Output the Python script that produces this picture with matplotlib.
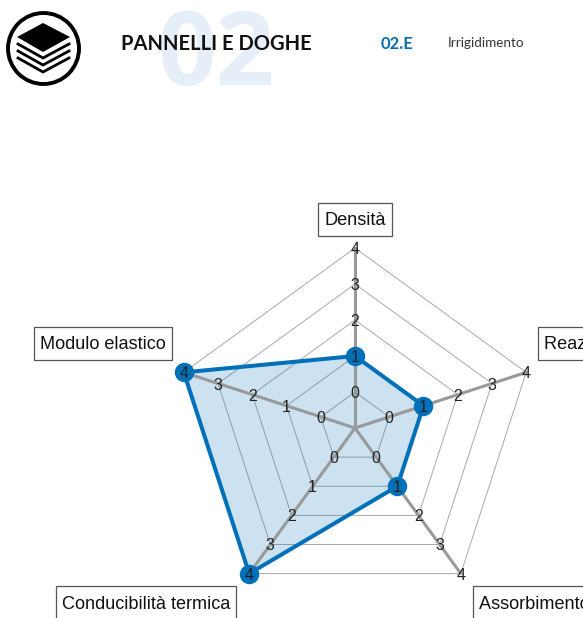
import numpy as np
import matplotlib
matplotlib.use('Agg')
import matplotlib.pyplot as plt
from matplotlib.patches import Circle, Polygon, Rectangle
from matplotlib.transforms import IdentityTransform

categories = ['Densità', 'Reazione al fuoco', 'Assorbimento acustico',
              'Conducibilità termica', 'Modulo elastico']
values = [1, 1, 1, 4, 4]
levels = [0, 1, 2, 3, 4]
r_min = -1

BLUE = '#0070b8'
W, H = 583, 618
fig = plt.figure(figsize=(W / 100, H / 100), dpi=100)

# one value unit = 36 px, centre of the radar at (355, 428)
ax = fig.add_axes([0, 0, 1, 1])
ax.set_xlim(-355 / 36, (W - 355) / 36)
ax.set_ylim((428 - H) / 36, 428 / 36)
ax.axis('off')

angles = np.deg2rad(90 - 72 * np.arange(len(categories)))


def to_xy(vals):
    r = np.asarray(vals, dtype=float) - r_min
    return r * np.cos(angles), r * np.sin(angles)


# grid
for lev in levels:
    gx, gy = to_xy([lev] * len(categories))
    ax.add_patch(Polygon(np.c_[gx, gy], closed=True, fill=False,
                         ec='#a8a8a8', lw=0.7, zorder=1))

# filled area
vx, vy = to_xy(values)
ax.add_patch(Polygon(np.c_[vx, vy], closed=True, fc=BLUE, alpha=0.2, ec='none', zorder=2))

# spokes
tx, ty = to_xy([levels[-1]] * len(categories))
for x, y in zip(tx, ty):
    ax.plot([0, x], [0, y], color='#999999', lw=2.2, zorder=3, solid_capstyle='round')

# series
ax.add_patch(Polygon(np.c_[vx, vy], closed=True, fill=False, ec=BLUE, lw=2.9, zorder=4))
ax.plot(vx, vy, 'o', color=BLUE, ms=14, mew=0, zorder=5)

# tick labels on every spoke
for lev in levels:
    lx, ly = to_xy([lev] * len(categories))
    for x, y in zip(lx, ly):
        ax.annotate(str(lev), (x, y), xytext=(0, -1.5), textcoords='offset pixels',
                    ha='center', va='center', fontsize=11.5,
                    family='Liberation Sans', color='#222222', zorder=6)

# category boxes
offsets = [(0, 29, 'center'), (18, 29, 'left'), (18, -29, 'left'),
           (-19, -29, 'right'), (-18, 29, 'right')]
renderer = fig.canvas.get_renderer()
for name, x, y, (dx, dy, ha) in zip(categories, tx, ty, offsets):
    t = ax.annotate(name, (x, y), xytext=(dx, dy - 1.5), textcoords='offset pixels',
                    ha=ha, va='center', fontsize=13.1, family='Liberation Sans',
                    color='#111111', annotation_clip=False, zorder=8)
    ext = t.get_window_extent(renderer)
    yc = ax.transData.transform((x, y))[1] + dy
    ax.add_patch(Rectangle((ext.x0 - 6, yc - 16.5), ext.width + 12, 33, fc='white',
                           ec='#555555', lw=0.9, zorder=7, clip_on=False,
                           transform=IdentityTransform()))

# page header, in pixel coordinates
hd = fig.add_axes([0, 0, 1, 1])
hd.set_xlim(0, W)
hd.set_ylim(H, 0)
hd.axis('off')
hd.patch.set_alpha(0)

hd.text(216, 85, '02', fontsize=74, family='Open Sans', weight='bold', color='#e6eef7',
        ha='center', va='baseline')
hd.text(121, 44, 'PANNELLI E DOGHE', fontsize=14.5, family='Lato', weight='bold',
        color='#111111', ha='left', va='center')
hd.text(381, 44, '02.E', fontsize=12, family='Lato', weight='bold', color='#0a6db0',
        ha='left', va='center')
hd.text(448, 43, 'Irrigidimento', fontsize=9.7, family='Lato', color='#333333',
        ha='left', va='center')

# layers icon
hd.add_patch(Circle((43.5, 48.5), 35.5, fill=False, ec='black', lw=2.8))
hd.add_patch(Polygon([(43, 23), (70, 37), (43, 52), (17, 37)], closed=True, fc='black', ec='none'))
for dy in (0, 7, 14):
    hd.plot([18, 43, 69], [44 + dy, 58 + dy, 44 + dy], color='black', lw=2.0,
            solid_joinstyle='miter')

fig.savefig('out.png', dpi=100)
